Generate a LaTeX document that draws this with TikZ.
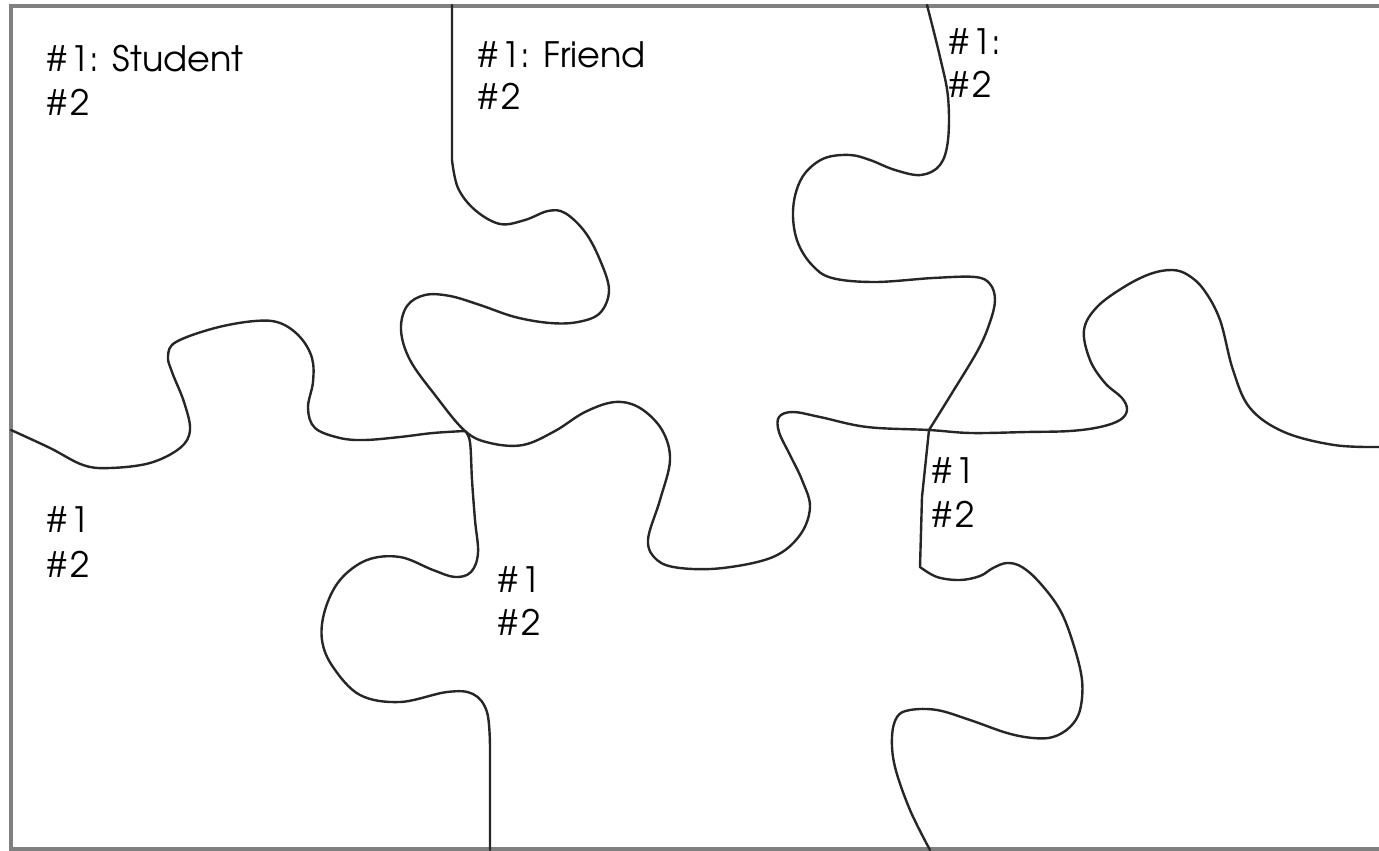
\documentclass[tikz,border=0pt]{standalone}
\usepackage{fontspec}
\setmainfont{TeX Gyre Adventor}
\newcommand{\hnum}[1]{\#\kern4pt #1}
\begin{document}
\begin{tikzpicture}[x=1pt,y=-1pt,
  seam/.style={line width=2.4pt, draw=black!85, line join=round, line cap=round},
  frame/.style={line width=3.5pt, draw=black!50},
  lbl/.style={anchor=base west, inner sep=0pt, font=\fontsize{35}{43}\selectfont}]
\useasboundingbox (0,0) rectangle (1379,851);
% frame
\draw[frame] (1379,6) -- (11,6) -- (11,849) -- (1379,849);
% junctions
\coordinate (xl) at (465,431);
\coordinate (xr) at (929,430);
\coordinate (t1top) at (452,5);
\coordinate (t2top) at (927,5);
\coordinate (aleft) at (11,430);
\coordinate (rend) at (1379,447);
\coordinate (v1bot) at (490,850);
\coordinate (v2bot) at (930,850);
% top seam between Student and Friend, continuing along the horizontal seam
\draw[seam] (t1top) -- (452,160) -- plot[smooth, tension=0.6] coordinates {(452,160) (458,188) (475,210) (500,224) (525,220) (548,211) (565,213) (585,232) (600,260) (609,290) (600,313) (578,322) (550,323) (515,317) (480,305) (450,296) (425,295) (407,306) (401,330) (410,360) (435,395) (xl) (490,443) (523,445) (555,431) (585,412) (615,402) (640,408) (662,430) (670,460) (660,500) (648,540) (657,560) (680,568) (723,568) (773,557) (800,535) (810,507) (802,480) (790,455) (779,432) (779,417) (793,412) (820,417) (867,427) (xr) (971,433) (1027,432) (1070,431) (1100,427) (1120,420) (1127,410) (1122,398) (1105,383) (1090,360) (1084,330) (1097,307) (1124,287) (1150,274) (1172,270) (1188,275) (1204,290) (1220,320) (1233,370) (1250,408) (1284,432) (1334,445) (rend)};
% top seam between Friend and right piece, continuing down
\draw[seam] plot[smooth, tension=0.6] coordinates {(t2top) (940,57) (948,97) (948,140) (940,165) (921,175) (895,170) (870,160) (850,155) (825,158) (806,172) (796,192) (793,217) (798,243) (812,265) (832,278) (875,282) (933,278) (975,277) (990,284) (995,300) (990,322) (978,350) (952,393) (xr)}
  -- (922,497) -- (920,567)
  -- plot[smooth, tension=0.6] coordinates {(920,567) (937,577) (960,580) (980,576) (993,568) (1007,563) (1022,567) (1040,583) (1060,610) (1073,643) (1082,680) (1080,710) (1070,727) (1053,737) (1033,738) (1007,733) (970,720) (937,710) (910,710) (897,717) (892,737) (895,767) (910,810) (v2bot)};
% left horizontal seam
\draw[seam] plot[smooth, tension=0.6] coordinates {(aleft) (50,448) (83,465) (110,468) (150,463) (180,448) (190,430) (184,402) (172,372) (168,356) (176,342) (215,328) (255,321) (280,323) (300,337) (312,358) (313,382) (308,408) (315,428) (340,438) (365,440) (400,437) (433,433) (xl)};
% bottom vertical seam between left and middle
\draw[seam] plot[smooth, tension=0.6] coordinates {(xl) (470,442) (472,480) (475,520) (478,553) (471,572) (455,577) (433,570) (400,557) (367,560) (340,580) (325,610) (322,640) (333,667) (360,695) (400,702) (447,692) (473,694) (487,712) (490,747)} -- (v1bot);
% labels
\node[lbl] (s1) at (47,72) {\hnum{1}: Student};
\node[lbl] (s2) at (47,115) {\hnum{2}};
\node[lbl] (f1) at (478,68) {\hnum{1}: Friend};
\node[lbl] (f2) at (478,110) {\hnum{2}};
\node[lbl] (r1) at (949,55) {\hnum{1}:};
\node[lbl] (r2) at (949,97) {\hnum{2}};
\node[lbl] (b1) at (47,532) {\hnum{1}};
\node[lbl] (b2) at (47,577) {\hnum{2}};
\node[lbl] (m1) at (498,592) {\hnum{1}};
\node[lbl] (m2) at (498,635) {\hnum{2}};
\node[lbl] (q1) at (932,483) {\hnum{1}};
\node[lbl] (q2) at (932,527) {\hnum{2}};
\end{tikzpicture}
\end{document}
